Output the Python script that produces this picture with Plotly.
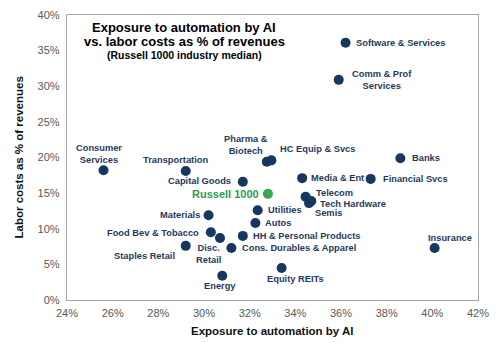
import plotly.graph_objects as go

# Russell 1000 industry medians: AI automation exposure vs labor cost share (%)
industries = [
    "Software & Services", "Comm & Prof<br>Services", "Consumer<br>Services",
    "Transportation", "Pharma &<br>Biotech", "HC Equip & Svcs", "Banks",
    "Capital Goods", "Media & Ent", "Financial Svcs", "Telecom",
    "Tech Hardware", "Semis", "Utilities", "Autos", "HH & Personal Products",
    "Cons. Durables & Apparel", "Disc.<br>Retail", "Food Bev & Tobacco",
    "Materials", "Staples Retail", "Energy", "Equity REITs", "Insurance",
]
exposure = [36.2, 35.9, 25.6, 29.2, 32.75, 32.95, 38.6, 31.7, 34.3, 37.3,
            34.45, 34.7, 34.6, 32.35, 32.25, 31.7, 31.2, 30.7, 30.3, 30.2,
            29.2, 30.8, 33.4, 40.1]
labor_costs = [36.1, 30.9, 18.2, 18.1, 19.4, 19.6, 19.9, 16.6, 17.1, 17.0,
               14.5, 13.9, 13.6, 12.6, 10.8, 9.0, 7.3, 8.7, 9.5, 11.9,
               7.6, 3.4, 4.5, 7.3]

benchmark_name = "Russell 1000"
benchmark_exposure = [32.8]
benchmark_labor = [14.9]

x_ticks = list(range(24, 43, 2))
y_ticks = list(range(0, 41, 5))

title_lines = [
    "Exposure to automation by AI",
    "vs. labor costs as % of revenues",
    "(Russell 1000 industry median)",
]
x_title = "Exposure to automation by AI"
y_title = "Labor costs as % of revenues"

# label placement relative to each marker: (xanchor, xshift, yshift)
label_place = [
    ("left", 8, 0), ("left", 11, 0), ("center", -5, 16.5),
    ("center", -10, 11), ("center", -21, 16.5), ("left", 7, 11), ("left", 10, 0),
    ("right", -10, 1), ("left", 7, 0), ("left", 10, 0), ("left", 8, 4),
    ("left", 7, -3), ("left", 4, -10), ("left", 8, 0), ("left", 8, 0),
    ("left", 8, 0), ("left", 9, 0), ("center", -11, -16), ("right", -10, -1),
    ("right", -7, 0), ("right", -9, -10), ("center", -2, -10),
    ("center", 14, -11), ("center", 15, 10),
]

NAVY = "#17375E"
LABEL = "#1F3A5C"
GREEN = "#2E9B50"
FONT = "Liberation Sans, Arial, sans-serif"

W, H = 500, 343
plot_left, plot_w, plot_top, plot_h = 67, 411, 15, 285


def px_to_paper(xp, yp):
    return (xp - plot_left) / plot_w, 1 - (yp - plot_top) / plot_h


fig = go.Figure()
fig.add_trace(go.Scatter(
    x=exposure, y=labor_costs, mode="markers",
    marker=dict(size=10, color=NAVY), hoverinfo="skip", showlegend=False,
))
fig.add_trace(go.Scatter(
    x=benchmark_exposure, y=benchmark_labor, mode="markers",
    marker=dict(size=10, color="#3AA85A"), hoverinfo="skip", showlegend=False,
))

annotations = []
for name, xv, yv, (anc, dx, dy) in zip(industries, exposure, labor_costs, label_place):
    annotations.append(dict(
        x=xv, y=yv, xref="x", yref="y", text=name, showarrow=False,
        xanchor=anc, yanchor="middle", xshift=dx, yshift=dy, align="center",
        font=dict(family=FONT, size=9.3, color=LABEL, weight="bold"),
    ))
annotations.append(dict(
    x=benchmark_exposure[0], y=benchmark_labor[0], xref="x", yref="y",
    text=benchmark_name, showarrow=False, xanchor="right", yanchor="middle",
    xshift=-7, yshift=0,
    font=dict(family=FONT, size=11, color=GREEN, weight="bold"),
))

# chart title block, placed inside the upper-left of the plot area
title_style = [(13, 27), (13, 41), (10.5, 55)]
for text, (size, ypix) in zip(title_lines, title_style):
    px, py = px_to_paper(184, ypix)
    annotations.append(dict(
        x=px, y=py, xref="paper", yref="paper", text=text, showarrow=False,
        xanchor="center", yanchor="middle",
        font=dict(family=FONT, size=size, color="#000000", weight="bold"),
    ))

# axis titles
axis_font = dict(family=FONT, size=11.5, color="#111111", weight="bold")
px, py = px_to_paper(plot_left + plot_w / 2, 331)
annotations.append(dict(x=px, y=py, xref="paper", yref="paper", text=x_title,
                        showarrow=False, xanchor="center", yanchor="middle",
                        font=axis_font))
px, py = px_to_paper(18, plot_top + plot_h / 2)
annotations.append(dict(x=px, y=py, xref="paper", yref="paper", text=y_title,
                        showarrow=False, xanchor="center", yanchor="middle",
                        textangle=-90, font=axis_font))

fig.update_layout(
    width=W, height=H,
    margin=dict(l=67, r=W - plot_left - plot_w, t=plot_top,
                b=H - plot_top - plot_h, autoexpand=False),
    paper_bgcolor="white", plot_bgcolor="white",
    font=dict(family=FONT, color="#595959"),
    xaxis=dict(
        range=[24, 42], tickvals=x_ticks,
        ticktext=[f"{v}%" for v in x_ticks],
        showgrid=False, zeroline=False, ticks="", automargin=False,
        ticklabelstandoff=3,
        showline=True, linecolor="#A6A6A6", linewidth=1.3, mirror=True,
        tickfont=dict(size=11, color="#595959"),
    ),
    yaxis=dict(
        range=[0, 40], tickvals=y_ticks,
        ticktext=[f"{v}%" for v in y_ticks],
        showgrid=False, zeroline=False, ticks="", automargin=False,
        ticklabelstandoff=4,
        showline=True, linecolor="#A6A6A6", linewidth=1.3, mirror=True,
        tickfont=dict(size=11, color="#595959"),
    ),
    annotations=annotations,
)

fig.write_html("out.html")
